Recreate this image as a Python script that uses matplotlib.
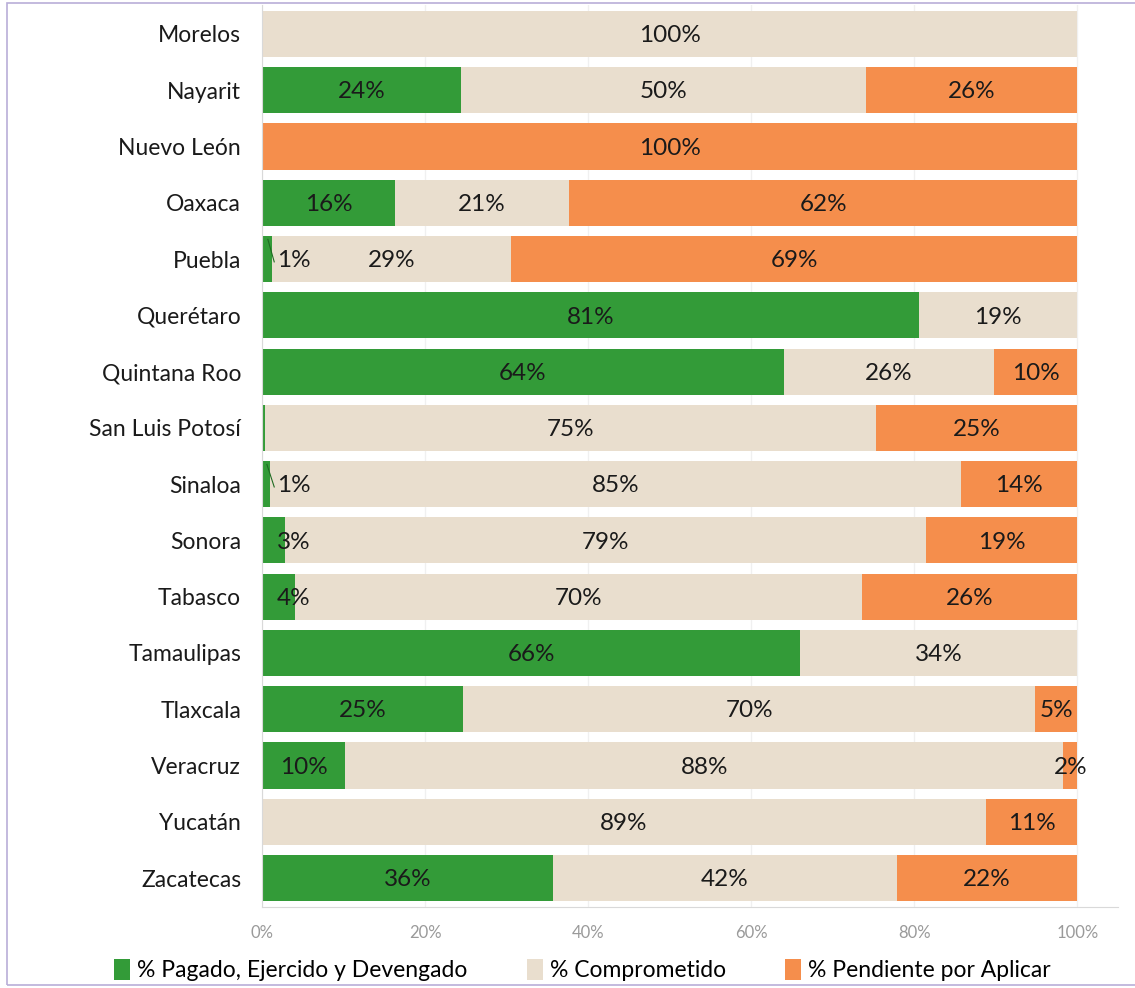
import numpy as np
import matplotlib
matplotlib.use("Agg")
import matplotlib.pyplot as plt
from matplotlib.patches import Rectangle

plt.rcParams['font.family'] = ['Lato', 'DejaVu Sans']

# Data (percent of each state's total)
estados = ['Morelos', 'Nayarit', 'Nuevo León', 'Oaxaca', 'Puebla', 'Querétaro',
           'Quintana Roo', 'San Luis Potosí', 'Sinaloa', 'Sonora', 'Tabasco',
           'Tamaulipas', 'Tlaxcala', 'Veracruz', 'Yucatán', 'Zacatecas']
pagado = [0, 24.4, 0, 16.3, 1.2, 80.6, 64.0, 0.4, 1.0, 2.8, 4.0, 66.0, 24.7, 10.2, 0, 35.7]
comprometido = [100, 49.7, 0, 21.4, 29.4, 19.4, 25.8, 74.9, 84.8, 78.6, 69.6, 34.0, 70.1, 88.1, 88.8, 42.2]
pendiente = [0, 25.9, 100, 62.3, 69.4, 0, 10.2, 24.7, 14.2, 18.6, 26.4, 0, 5.2, 1.7, 11.2, 22.1]

series = ['% Pagado, Ejercido y Devengado', '% Comprometido', '% Pendiente por Aplicar']
colores = ['#339b38', '#e9dece', '#f58e4c']

fig = plt.figure(figsize=(11.35, 9.88), dpi=100)
ax = fig.add_axes([262 / 1135, 1 - 907 / 988, (1118 - 262) / 1135, (907 - 5) / 988])

y = np.arange(len(estados))
left = np.zeros(len(estados))
for vals, col, name in zip([pagado, comprometido, pendiente], colores, series):
    v = np.array(vals) / 100
    ax.barh(y, v, left=left, height=0.82, color=col, label=name, zorder=2)
    for i in range(len(estados)):
        if vals[i] < 0.5:
            continue
        xc = left[i] + v[i] / 2
        # small green segments: label pushed right, with leader line for 1%
        if name == series[0] and vals[i] < 5:
            xc = 0.039
            if vals[i] < 2:
                ax.plot([left[i] + v[i] * 0.6, 0.015], [y[i] - 0.35, y[i] + 0.05],
                        color='#1f6b22', lw=0.8, zorder=3)
        ax.text(xc, y[i] + 0.03, f'{vals[i]:.0f}%', ha='center', va='center',
                fontsize=17.5, color='#1a1a1a', zorder=4)
    left += v

ax.set_xlim(0, 1.05)
ax.set_ylim(len(estados) - 0.485, -0.515)
ax.set_yticks(y)
ax.set_yticklabels(estados, fontsize=16.5, color='#1a1a1a')
ax.set_xticks([0, 0.2, 0.4, 0.6, 0.8, 1.0])
ax.set_xticklabels(['0%', '20%', '40%', '60%', '80%', '100%'], fontsize=12, color='#9a9a9a')
ax.tick_params(axis='y', length=0, pad=15)
ax.tick_params(axis='x', length=0, pad=13)
ax.grid(axis='x', color='#f0f0f0', lw=1, zorder=0)
for s in ['top', 'right']:
    ax.spines[s].set_visible(False)
for s in ['left', 'bottom']:
    ax.spines[s].set_color('#d9d9d9')

fig.legend(loc='center', bbox_to_anchor=(0.513, 0.018), ncol=3, frameon=False,
           fontsize=16.5, handlelength=0.7, handleheight=1.0, handletextpad=0.3,
           columnspacing=2.6)

fig.patches.append(Rectangle((7 / 1135, 3 / 988), 1.1, 1 - 6 / 988, transform=fig.transFigure,
                             fill=False, edgecolor='#b9aed8', lw=1.2))

fig.savefig('out.png', dpi=100)
